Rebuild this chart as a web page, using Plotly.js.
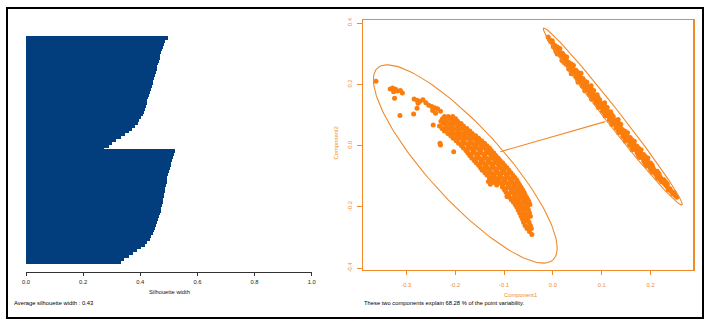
<!DOCTYPE html>
<html><head><meta charset="utf-8">
<script src="https://cdn.plot.ly/plotly-3.0.1.min.js"></script>
<style>html,body{margin:0;padding:0;background:#fff}#chart{width:705px;height:320px}</style>
</head><body><div id="chart"></div>
<script>
// ---------- Silhouette plot data ----------
const silCluster1 = [0.497,0.485,0.482,0.479,0.476,0.473,0.470,0.468,0.465,0.463,
  0.460,0.457,0.454,0.452,0.449,0.446,0.443,0.440,0.437,0.434,
  0.431,0.428,0.425,0.422,0.419,0.416,0.413,0.409,0.404,0.397,
  0.391,0.381,0.370,0.359,0.345,0.331,0.316,0.302,0.289,0.273];
const silCluster2 = [0.522,0.519,0.515,0.512,0.509,0.506,0.503,0.500,0.497,0.495,
  0.494,0.492,0.490,0.488,0.486,0.484,0.482,0.480,0.478,0.476,
  0.474,0.471,0.468,0.465,0.462,0.459,0.456,0.452,0.448,0.445,
  0.439,0.433,0.425,0.415,0.404,0.390,0.375,0.361,0.343,0.332];
const avgSilhouette = 0.43;
const silTicks = [0, 0.2, 0.4, 0.6, 0.8, 1.0];
const silTickLabels = ['0.0','0.2','0.4','0.6','0.8','1.0'];

// ---------- Cluster plot data ----------
const cluster1Sparse = [[-0.362,0.210],[-0.333,0.185],[-0.328,0.188],[-0.322,0.184],[-0.318,0.178],[-0.312,0.180],
  [-0.326,0.176],[-0.308,0.172],[-0.324,0.155],[-0.313,0.098],[-0.284,0.152],[-0.278,0.148],[-0.272,0.145],
  [-0.266,0.150],[-0.260,0.140],[-0.276,0.138],[-0.278,0.122],[-0.285,0.103],[-0.254,0.132],[-0.248,0.128],
  [-0.242,0.124],[-0.236,0.120],[-0.246,0.115],[-0.230,0.112],[-0.240,0.106],[-0.245,0.067],[-0.230,0.002],
  [-0.231,0.008],[-0.203,-0.020],[-0.132,-0.117],[-0.128,-0.126],[-0.094,-0.166],[-0.145,-0.079]];
const cluster1Rows = [
  [0.095,[-0.222,-0.214,-0.205]],
  [0.088,[-0.226,-0.210,-0.199]],
  [0.084,[-0.220,-0.205]],
  [0.080,[-0.229,-0.218,-0.204,-0.195]],
  [0.072,[-0.224,-0.212,-0.200,-0.188]],
  [0.068,[-0.218,-0.206,-0.194]],
  [0.064,[-0.232,-0.219,-0.207,-0.193,-0.183]],
  [0.056,[-0.227,-0.214,-0.199,-0.185,-0.176]],
  [0.052,[-0.220,-0.206,-0.192,-0.180]],
  [0.048,[-0.222,-0.208,-0.194,-0.180,-0.170]],
  [0.040,[-0.215,-0.201,-0.188,-0.174,-0.165]],
  [0.036,[-0.208,-0.194,-0.181,-0.169]],
  [0.032,[-0.209,-0.196,-0.183,-0.168,-0.158]],
  [0.024,[-0.204,-0.190,-0.176,-0.162,-0.152]],
  [0.020,[-0.197,-0.183,-0.169,-0.157]],
  [0.016,[-0.198,-0.184,-0.170,-0.156,-0.146]],
  [0.008,[-0.193,-0.179,-0.165,-0.151,-0.140]],
  [0.004,[-0.186,-0.172,-0.158,-0.145]],
  [0.000,[-0.187,-0.173,-0.160,-0.146,-0.135]],
  [-0.008,[-0.183,-0.168,-0.155,-0.141,-0.130]],
  [-0.012,[-0.175,-0.161,-0.148,-0.135]],
  [-0.016,[-0.178,-0.164,-0.150,-0.136,-0.126]],
  [-0.024,[-0.174,-0.160,-0.146,-0.132,-0.121]],
  [-0.028,[-0.167,-0.153,-0.139,-0.126]],
  [-0.032,[-0.170,-0.156,-0.141,-0.127,-0.117]],
  [-0.040,[-0.166,-0.151,-0.137,-0.123,-0.112]],
  [-0.044,[-0.158,-0.144,-0.130,-0.117]],
  [-0.048,[-0.161,-0.147,-0.133,-0.119,-0.108]],
  [-0.056,[-0.157,-0.143,-0.129,-0.115,-0.103]],
  [-0.060,[-0.150,-0.136,-0.122,-0.109]],
  [-0.064,[-0.152,-0.139,-0.125,-0.111,-0.099]],
  [-0.072,[-0.148,-0.135,-0.121,-0.107,-0.094]],
  [-0.076,[-0.141,-0.128,-0.114,-0.100]],
  [-0.080,[-0.143,-0.131,-0.117,-0.103,-0.090]],
  [-0.088,[-0.139,-0.127,-0.113,-0.099,-0.086]],
  [-0.092,[-0.133,-0.120,-0.106,-0.092]],
  [-0.096,[-0.135,-0.122,-0.109,-0.095,-0.082]],
  [-0.104,[-0.130,-0.118,-0.105,-0.091,-0.078]],
  [-0.108,[-0.124,-0.111,-0.098,-0.084]],
  [-0.112,[-0.125,-0.113,-0.100,-0.087,-0.074]],
  [-0.120,[-0.120,-0.108,-0.096,-0.083,-0.071]],
  [-0.124,[-0.114,-0.102,-0.089,-0.077]],
  [-0.128,[-0.115,-0.104,-0.092,-0.079,-0.068]],
  [-0.136,[-0.103,-0.088,-0.076,-0.065]],
  [-0.140,[-0.095,-0.082,-0.070]],
  [-0.144,[-0.099,-0.085,-0.073,-0.062]],
  [-0.152,[-0.096,-0.082,-0.070,-0.059]],
  [-0.156,[-0.089,-0.076,-0.064]],
  [-0.160,[-0.093,-0.079,-0.067,-0.057]],
  [-0.168,[-0.089,-0.076,-0.064,-0.054]],
  [-0.172,[-0.082,-0.070,-0.059]],
  [-0.176,[-0.085,-0.073,-0.061,-0.051]],
  [-0.184,[-0.081,-0.070,-0.058,-0.049]],
  [-0.188,[-0.075,-0.064,-0.053]],
  [-0.192,[-0.077,-0.066,-0.055,-0.047]],
  [-0.200,[-0.074,-0.063,-0.052]],
  [-0.205,[-0.067,-0.056]],
  [-0.210,[-0.071,-0.060,-0.050]],
  [-0.220,[-0.068,-0.058,-0.048]],
  [-0.225,[-0.061,-0.051]],
  [-0.230,[-0.065,-0.055,-0.046]],
  [-0.240,[-0.062,-0.052]],
  [-0.245,[-0.056]],
  [-0.250,[-0.060,-0.049]],
  [-0.260,[-0.057,-0.046]],
  [-0.265,[-0.051]],
  [-0.270,[-0.053,-0.044]],
  [-0.280,[-0.048]],
  [-0.290,[-0.043]]
];
const cluster2Points = [
  [-0.0097,0.3543],[-0.0044,0.3385],[-0.0012,0.3425],[0.0009,0.3227],[0.0042,0.3268],
  [0.0062,0.3069],[0.0111,0.3130],[0.0143,0.3170],[0.0147,0.2952],[0.0196,0.3013],
  [0.0185,0.2774],[0.0234,0.2835],[0.0282,0.2895],[0.0270,0.2657],[0.0319,0.2718],
  [0.0323,0.2499],[0.0372,0.2560],[0.0420,0.2620],[0.0376,0.2342],[0.0424,0.2402],[0.0473,0.2463],
  [0.0478,0.2244],[0.0527,0.2305],[0.0575,0.2365],[0.0515,0.2067],[0.0563,0.2127],[0.0612,0.2188],
  [0.0600,0.1949],[0.0649,0.2010],[0.0697,0.2070],[0.0653,0.1792],[0.0701,0.1852],[0.0750,0.1913],[0.0782,0.1953],
  [0.0739,0.1674],[0.0788,0.1735],[0.0836,0.1795],[0.0792,0.1517],[0.0824,0.1557],[0.0873,0.1618],[0.0905,0.1658],
  [0.0877,0.1399],[0.0926,0.1460],[0.0958,0.1500],[0.0930,0.1242],[0.0978,0.1302],[0.1027,0.1363],[0.1059,0.1403],
  [0.1016,0.1124],[0.1065,0.1185],[0.1113,0.1245],[0.1069,0.0967],[0.1101,0.1007],[0.1150,0.1068],[0.1182,0.1108],
  [0.1154,0.0849],[0.1203,0.0910],[0.1235,0.0950],[0.1207,0.0692],[0.1255,0.0752],[0.1304,0.0813],[0.1336,0.0853],
  [0.1293,0.0574],[0.1342,0.0635],[0.1390,0.0695],[0.1346,0.0417],[0.1378,0.0457],[0.1427,0.0518],
  [0.1431,0.0299],[0.1480,0.0360],[0.1528,0.0420],[0.1484,0.0142],[0.1532,0.0202],[0.1581,0.0263],
  [0.1570,0.0024],[0.1619,0.0085],[0.1667,0.0145],[0.1623,-0.0134],[0.1671,-0.0074],[0.1720,-0.0013],
  [0.1724,-0.0231],[0.1773,-0.0170],[0.1805,-0.0130],[0.1777,-0.0389],[0.1826,-0.0328],[0.1858,-0.0288],
  [0.1863,-0.0506],[0.1912,-0.0445],[0.1944,-0.0405],[0.1916,-0.0664],[0.1965,-0.0603],[0.1997,-0.0563],
  [0.2001,-0.0781],[0.2050,-0.0720],[0.2086,-0.0899],[0.2135,-0.0838],[0.2140,-0.1056],[0.2189,-0.0995],
  [0.2225,-0.1174],[0.2274,-0.1113],[0.2311,-0.1290],[0.2343,-0.1250],[0.2363,-0.1449],[0.2396,-0.1408],
  [0.2450,-0.1565],[0.2482,-0.1525],[0.2535,-0.1683],
  [-0.0071,0.3464],[-0.0001,0.3327],[0.0044,0.3158],[0.0093,0.3219],[0.0089,0.2991],[0.0138,0.3052],
  [0.0182,0.2883],[0.0231,0.2944],[0.0228,0.2716],[0.0277,0.2777],[0.0321,0.2608],[0.0370,0.2669],
  [0.0366,0.2441],[0.0415,0.2502],[0.0459,0.2333],[0.0508,0.2394],[0.0505,0.2166],[0.0554,0.2227],
  [0.0598,0.2058],[0.0647,0.2119],[0.0643,0.1891],[0.0692,0.1952],[0.0736,0.1783],[0.0785,0.1844],
  [0.0782,0.1616],[0.0831,0.1677],[0.0875,0.1508],[0.0924,0.1569],[0.0920,0.1341],[0.0969,0.1402],
  [0.1013,0.1233],[0.1062,0.1294],[0.1059,0.1066],[0.1108,0.1127],[0.1152,0.0958],[0.1201,0.1019],
  [0.1197,0.0791],[0.1246,0.0852],[0.1290,0.0683],[0.1339,0.0744],[0.1336,0.0516],[0.1385,0.0577],
  [0.1429,0.0408],[0.1478,0.0469],[0.1474,0.0241],[0.1523,0.0302],[0.1567,0.0133],[0.1616,0.0194],
  [0.1613,-0.0035],[0.1662,0.0026],[0.1706,-0.0143],[0.1755,-0.0082],[0.1751,-0.0310],[0.1800,-0.0249],
  [0.1844,-0.0418],[0.1893,-0.0357],[0.1890,-0.0585],[0.1939,-0.0524],[0.1983,-0.0693],[0.2032,-0.0632],
  [0.2028,-0.0860],[0.2077,-0.0799],[0.2121,-0.0968],[0.2170,-0.0907],[0.2191,-0.1105],[0.2216,-0.1074],
  [0.2277,-0.1222],[0.2309,-0.1182],[0.2346,-0.1359],[0.2423,-0.1487],[0.2501,-0.1614]
];
// ellipse: center, conjugate semi-axis vectors (data units)
const ellipseCenters = [[-0.1793,-0.0597],[0.1226,0.0948]];
const ellipseAxisA = [[0.1796,-0.3129],[0.1416,-0.2882]];
const ellipseAxisB = [[0.0559,0.0815],[0.0121,0.0151]];
const connectorX = [-0.1077, 0.1072];
const connectorY = [-0.0196, 0.0783];
const pcaXTicks = [-0.3,-0.2,-0.1,0,0.1,0.2];
const pcaXTickLabels = ['-0.3','-0.2','-0.1','0.0','0.1','0.2'];
const pcaYTicks = [-0.4,-0.2,0,0.2,0.4];
const pcaYTickLabels = ['-0.4','-0.2','0.0','0.2','0.4'];
const variabilityExplained = 68.28;

// ---------- build ----------
const W = 705, H = 320;
const px = x => x / W, py = y => 1 - y / H;
const navy = '#023e7d';
const orange = '#f28a2a';
const ptOrange = '#fb7d0c';

const silValues = silCluster1.concat(silCluster2);
const silIndex = silValues.map((_, i) => i);

const c1 = cluster1Sparse.slice();
cluster1Rows.forEach(r => r[1].forEach(x => c1.push([x, r[0]])));

const traces = [];
traces.push({type:'bar', orientation:'h', x:silValues, y:silIndex, width:1.35,
  marker:{color:navy, line:{width:0}}, xaxis:'x', yaxis:'y', hoverinfo:'skip'});

function ellipseTrace(k){
  const xs=[], ys=[];
  for(let i=0;i<=160;i++){
    const t = 2*Math.PI*i/160;
    xs.push(ellipseCenters[k][0] + ellipseAxisA[k][0]*Math.cos(t) + ellipseAxisB[k][0]*Math.sin(t));
    ys.push(ellipseCenters[k][1] + ellipseAxisA[k][1]*Math.cos(t) + ellipseAxisB[k][1]*Math.sin(t));
  }
  return {type:'scatter', mode:'lines', x:xs, y:ys, line:{color:orange, width:1.1}, xaxis:'x2', yaxis:'y2', hoverinfo:'skip'};
}
const ptMarker = {symbol:'circle', size:5, color:ptOrange, line:{width:0}};
traces.push({type:'scatter', mode:'markers', x:c1.map(p=>p[0]), y:c1.map(p=>p[1]), marker:ptMarker, xaxis:'x2', yaxis:'y2', hoverinfo:'skip'});
traces.push({type:'scatter', mode:'markers', x:cluster2Points.map(p=>p[0]), y:cluster2Points.map(p=>p[1]), marker:ptMarker, xaxis:'x2', yaxis:'y2', hoverinfo:'skip'});
traces.push(ellipseTrace(0));
traces.push(ellipseTrace(1));
traces.push({type:'scatter', mode:'lines', x:connectorX, y:connectorY, line:{color:orange, width:1.1}, xaxis:'x2', yaxis:'y2', hoverinfo:'skip'});

const fontFam = 'Liberation Sans, Arial, sans-serif';
const layout = {
  width:W, height:H, margin:{l:0,r:0,t:0,b:0,pad:0},
  paper_bgcolor:'#ffffff', plot_bgcolor:'rgba(0,0,0,0)', showlegend:false, bargap:0,
  font:{family:fontFam, size:6, color:'#000'},
  xaxis:{domain:[px(26), px(311.7)], range:[0,1], anchor:'y', tickvals:silTicks, ticktext:silTickLabels,
    showline:true, linecolor:'#333', linewidth:1, ticks:'outside', ticklen:3, tickcolor:'#333', tickwidth:1,
    showgrid:false, zeroline:false, tickfont:{size:5.8, color:'#222', family:fontFam}, ticklabelstandoff:1},
  yaxis:{domain:[py(272), py(30)], range:[82.68, -2.87], anchor:'x', visible:false, showgrid:false, zeroline:false},
  xaxis2:{domain:[px(363.3), px(693.3)], range:[-0.388, 0.2874], anchor:'y2', tickvals:pcaXTicks, ticktext:pcaXTickLabels,
    showline:true, mirror:true, linecolor:orange, linewidth:1.3, ticks:'outside', ticklen:4, tickcolor:orange, tickwidth:1,
    showgrid:false, zeroline:false, tickfont:{size:5.8, color:orange, family:fontFam}, ticklabelstandoff:5},
  yaxis2:{domain:[py(270), py(20)], range:[-0.4055, 0.4098], anchor:'x2', tickvals:pcaYTicks, ticktext:pcaYTickLabels,
    showline:true, mirror:true, linecolor:orange, linewidth:1.3, ticks:'outside', ticklen:5, tickcolor:orange, tickwidth:1,
    showgrid:false, zeroline:false, tickangle:-90, tickfont:{size:5.8, color:orange, family:fontFam}, ticklabelstandoff:3},
  annotations:[
    {text:'Silhouette width', xref:'paper', yref:'paper', x:px(169), y:py(292), xanchor:'center', yanchor:'middle', showarrow:false, font:{size:5.8, color:'#111'}},
    {text:'Average silhouette width : ' + avgSilhouette.toFixed(2), xref:'paper', yref:'paper', x:px(12), y:py(303), xanchor:'left', yanchor:'middle', showarrow:false, font:{size:5.8, color:'#000'}},
    {text:'Component1', xref:'paper', yref:'paper', x:px(520), y:py(295), xanchor:'center', yanchor:'middle', showarrow:false, font:{size:5.8, color:orange}},
    {text:'Component2', xref:'paper', yref:'paper', x:px(335), y:py(143.5), xanchor:'center', yanchor:'middle', textangle:-90, showarrow:false, font:{size:5.8, color:orange}},
    {text:'These two components explain ' + variabilityExplained.toFixed(2) + ' % of the point variability.', xref:'paper', yref:'paper', x:px(362), y:py(303), xanchor:'left', yanchor:'middle', showarrow:false, font:{size:5.8, color:'#000'}}
  ],
  shapes:[
    {type:'rect', xref:'paper', yref:'paper', x0:px(7), y0:py(8), x1:px(703), y1:py(318), line:{color:'#000', width:2}, fillcolor:'rgba(0,0,0,0)'}
  ]
};
Plotly.newPlot('chart', traces, layout, {staticPlot:true, displayModeBar:false});
</script>
</body></html>
